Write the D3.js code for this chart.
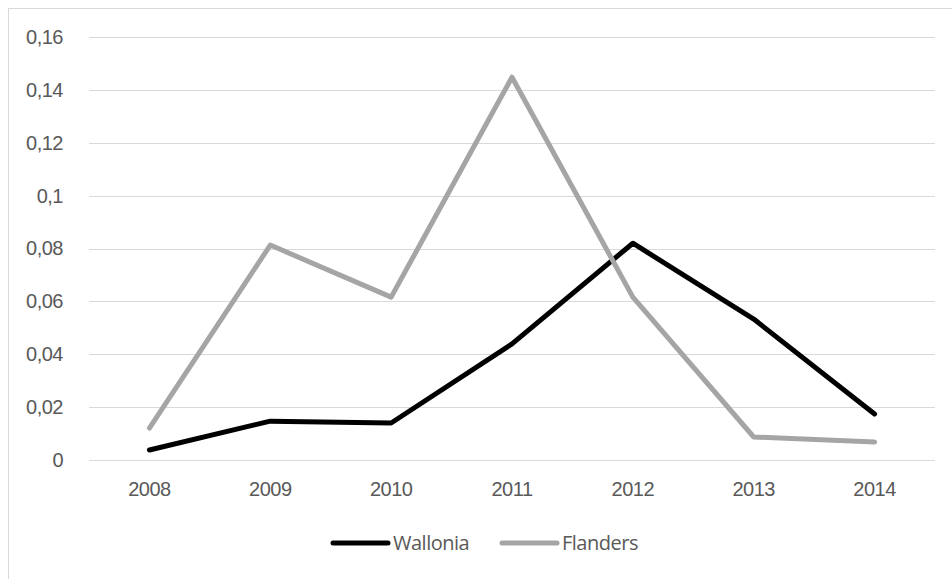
<!DOCTYPE html>
<html lang='en'>
<head>
  <meta charset='UTF-8'>
  <title>Wallonia / Flanders</title>
  <style type='text/css'>
    body {
      margin: 0;
      background: #fff;
      font-family: 'Open Sans', sans-serif;
    }
    .tick text, .legend text {
      fill: #595959;
      font-size: 20px;
      letter-spacing: -0.5px;
    }
    .grid line {
      stroke: #d9d9d9;
      stroke-width: 1px;
    }
  </style>
  <script type='text/javascript' src='https://d3js.org/d3.v7.min.js'></script>
</head>
<body>
  <script type='text/javascript'>
    const years = ['2008', '2009', '2010', '2011', '2012', '2013', '2014']
    const wallonia = [0.0038, 0.0147, 0.014, 0.0439, 0.082, 0.0533, 0.0174]
    const flanders = [0.0121, 0.0813, 0.0616, 0.1448, 0.0616, 0.0087, 0.0068]
    const yTicks = [0, 0.02, 0.04, 0.06, 0.08, 0.1, 0.12, 0.14, 0.16]
    const seriesNames = ['Wallonia', 'Flanders']
    const seriesColors = ['#000000', '#a5a5a5']

    const W = 952, H = 579
    const margin = {top: 37, right: 17, bottom: 119, left: 89}
    const width = W - margin.left - margin.right
    const height = H - margin.top - margin.bottom

    const svg = d3.select('body').append('svg')
      .attr('width', W)
      .attr('height', H)

    // chart frame, runs off the right and bottom edge
    svg.append('rect')
      .attr('x', 8.5).attr('y', 8.5)
      .attr('width', W + 10).attr('height', H + 10)
      .attr('fill', 'none')
      .attr('stroke', '#d9d9d9')

    const g = svg.append('g')
      .attr('transform', `translate(${margin.left},${margin.top})`)

    const x = d3.scaleBand().domain(years).range([0, width])
    const y = d3.scaleLinear().domain([0, 0.16]).range([height, 0])
    const fmt = d => d3.format('.2~f')(d).replace('.', ',')

    g.append('g')
      .attr('class', 'grid')
      .selectAll('line')
      .data(yTicks)
      .join('line')
      .attr('x1', 0).attr('x2', width)
      .attr('y1', d => Math.round(y(d)) + 0.5)
      .attr('y2', d => Math.round(y(d)) + 0.5)

    const yAxis = g.append('g')
      .call(d3.axisLeft(y).tickValues(yTicks).tickFormat(fmt).tickSize(0).tickPadding(26))
    yAxis.select('.domain').remove()

    const xAxis = g.append('g')
      .attr('transform', `translate(0,${height})`)
      .call(d3.axisBottom(x).tickSize(0).tickPadding(22))
    xAxis.select('.domain').remove()

    const line = d3.line()
      .x((d, i) => x(years[i]) + x.bandwidth() / 2)
      .y(d => y(d))

    ;[wallonia, flanders].forEach((s, i) => {
      g.append('path')
        .datum(s)
        .attr('fill', 'none')
        .attr('stroke', seriesColors[i])
        .attr('stroke-width', 5)
        .attr('stroke-linejoin', 'round')
        .attr('stroke-linecap', 'round')
        .attr('d', line)
    })

    // legend
    const legendX = [333, 502]
    const legend = svg.selectAll('.legend')
      .data(seriesNames)
      .join('g')
      .attr('class', 'legend')
      .attr('transform', (d, i) => `translate(${legendX[i]},543)`)

    legend.append('line')
      .attr('x1', 0).attr('x2', 55)
      .attr('stroke', (d, i) => seriesColors[i])
      .attr('stroke-width', 5)
      .attr('stroke-linecap', 'round')

    legend.append('text')
      .attr('x', 60)
      .attr('dy', '0.35em')
      .text(d => d)
  </script>
</body>
</html>
